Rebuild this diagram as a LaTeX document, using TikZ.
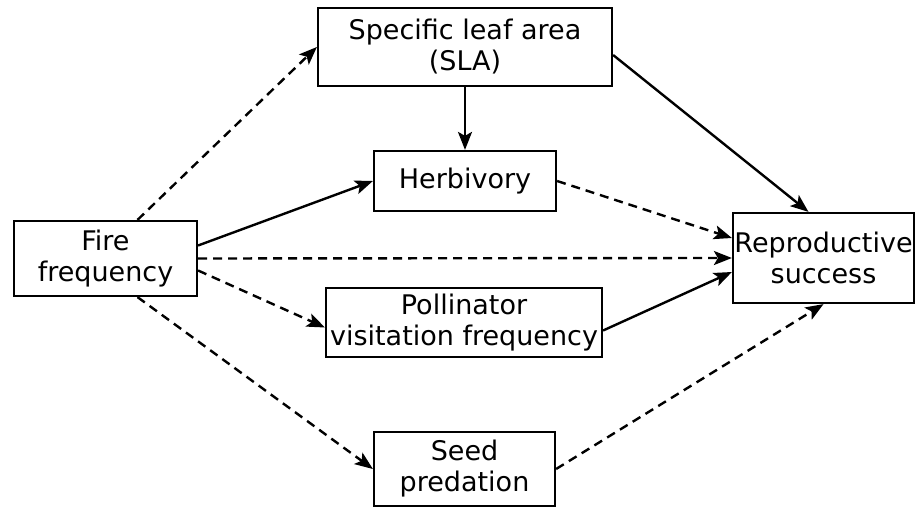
\documentclass[tikz,border=0pt]{standalone}
\usepackage{fontspec}
\setmainfont{DejaVu Sans}
\usetikzlibrary{arrows.meta}

\begin{document}
\begin{tikzpicture}[x=0.5pt,y=-0.5pt,
	box/.style={draw, line width=1.1pt, align=center, inner sep=0pt, font=\fontsize{13.5}{15.5}\selectfont},
	solidarr/.style={-{Stealth[length=9pt,width=7pt,inset=2pt]}, line width=1.2pt},
	dasharr/.style={solidarr, dash pattern=on 4.5pt off 3pt}]
			%%%%% START %%%%%
			\useasboundingbox (0, 0) rectangle (924, 507);
			
			\node[box, minimum width=147pt, minimum height=39pt] (sla) at (465, 47) {Specific leaf area\\(SLA)};
			\node[box, minimum width=91pt, minimum height=30pt] (herb) at (465, 181) {Herbivory};
			\node[box, minimum width=91.5pt, minimum height=37.5pt] (fire) at (105.5, 258.5) {Fire\\frequency};
			\node[box, minimum width=90.5pt, minimum height=45pt] (repro) at (823.5, 258) {Reproductive\\success};
			\node[box, minimum width=138pt, minimum height=34.5pt] (poll) at (464, 322.5) {Pollinator\\visitation frequency};
			\node[box, minimum width=90.5pt, minimum height=37pt] (seed) at (464.5, 469) {Seed\\predation};
			
			\draw[dasharr] ([xshift=16pt]fire.north) -- (sla.west);
			\draw[solidarr] ([yshift=6.5pt]fire.east) -- (herb.west);
			\draw[dasharr] (fire.east) -- (repro.west);
			\draw[dasharr] ([yshift=-6pt]fire.east) -- ([yshift=-2.5pt]poll.west);
			\draw[dasharr] ([xshift=16pt]fire.south) -- (seed.west);
			
			\draw[solidarr] (sla) -- (herb);
			\draw[solidarr] ([yshift=-4pt]sla.east) -- ([xshift=-7.5pt]repro.north);
			\draw[dasharr] (herb.east) -- ([yshift=10pt]repro.west);
			\draw[solidarr] ([yshift=-4pt]poll.east) -- ([yshift=-7pt]repro.west);
			\draw[dasharr] (seed.east) -- (repro.south);
			%%%%% END %%%%%
\end{tikzpicture}
\end{document}
